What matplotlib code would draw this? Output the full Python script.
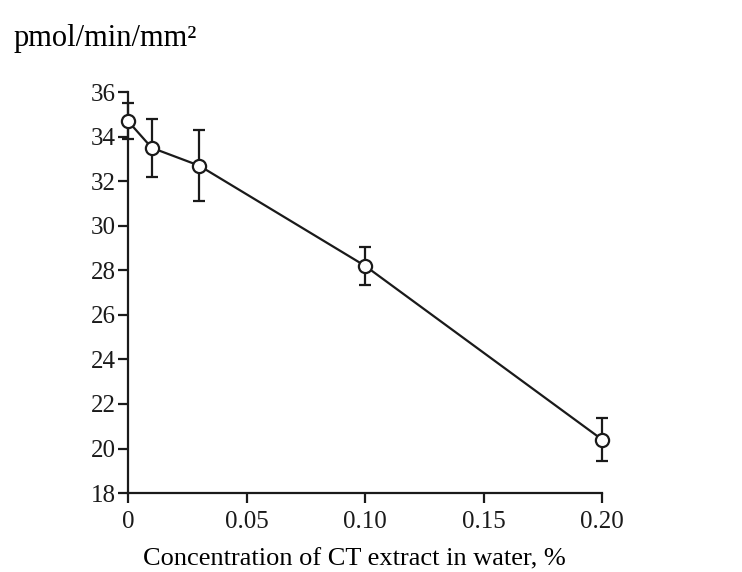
import matplotlib
matplotlib.use("Agg")
import matplotlib.pyplot as plt

plt.rcParams['font.family'] = ['Liberation Serif', 'DejaVu Serif']

conc = [0, 0.01, 0.03, 0.10, 0.20]
rate = [34.7, 33.5, 32.7, 28.2, 20.4]
err = [0.8, 1.3, 1.6, 0.85, 0.95]
xticks = [0, 0.05, 0.10, 0.15, 0.20]
xticklabels = ['0', '0.05', '0.10', '0.15', '0.20']
yticks = list(range(18, 37, 2))

fig = plt.figure(figsize=(7.42, 5.72), dpi=100)
ax = fig.add_axes([0.1725, 0.138, 0.639, 0.701])

ax.errorbar(conc, rate, yerr=err, color='#1a1a1a', lw=1.6, elinewidth=1.6,
            capsize=4, capthick=2.2, marker='o', ms=9.5, mfc='white',
            mec='#1a1a1a', mew=1.6, clip_on=False, zorder=3)

ax.set_xlim(0, 0.20)
ax.set_ylim(18, 36)
ax.set_xticks(xticks)
ax.set_xticklabels(xticklabels)
ax.set_yticks(yticks)
for s in ['top', 'right']:
    ax.spines[s].set_visible(False)
for s in ['left', 'bottom']:
    ax.spines[s].set_linewidth(1.6)
    ax.spines[s].set_color('#1a1a1a')
ax.tick_params(direction='out', length=7, width=1.6, labelsize=18, colors='#1a1a1a')
ax.tick_params(axis='x', pad=6)
ax.tick_params(axis='y', pad=2)

ax.set_xlabel('Concentration of CT extract in water, %', fontsize=19)
ax.xaxis.set_label_coords(0.477, -0.138)
fig.text(0.018, 0.932, 'pmol/min/mm²', fontsize=22, va='center', ha='left')

fig.savefig('out.png', dpi=100)
